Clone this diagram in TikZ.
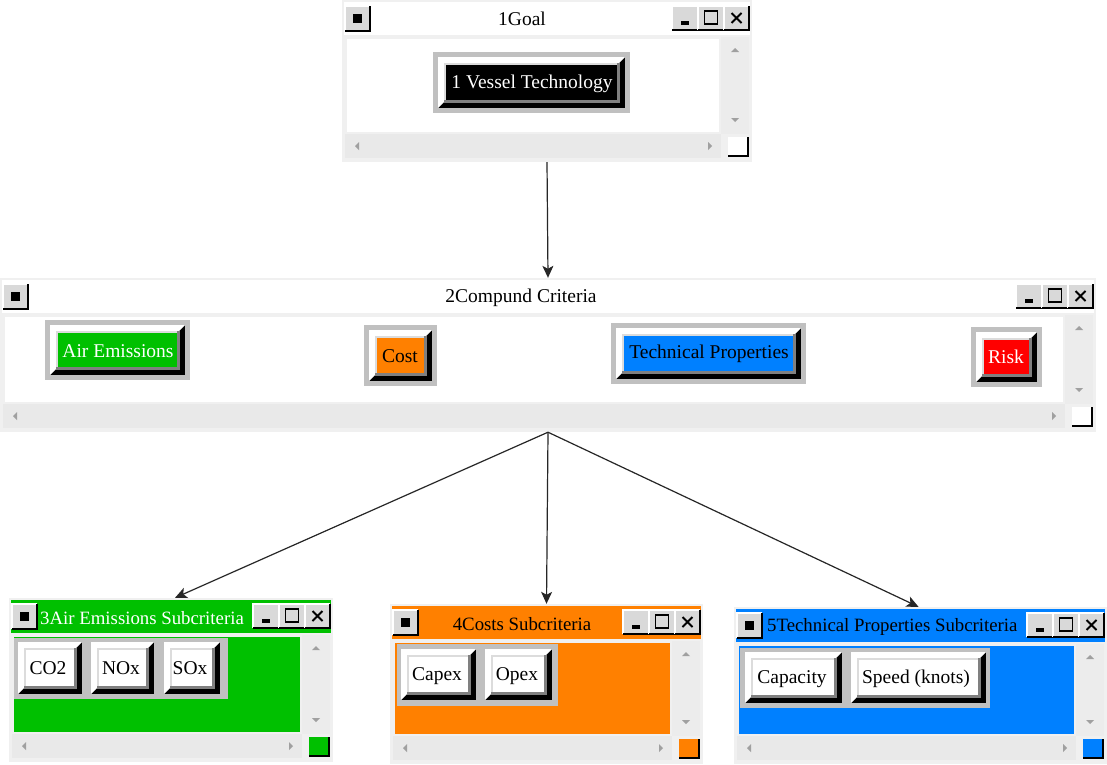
\documentclass[tikz,border=0pt]{standalone}
\usepackage{fontspec}
\setmainfont{Liberation Serif}
\usetikzlibrary{arrows.meta,fit}

\definecolor{winbg}{HTML}{F0F0F0}
\definecolor{scrollbg}{HTML}{E9E9E9}
\definecolor{btnface}{HTML}{D9D9D9}
\definecolor{framegray}{HTML}{C0C0C0}
\definecolor{shadegray}{HTML}{808080}
\definecolor{lightedge}{HTML}{DCDCDC}
\definecolor{arrgray}{HTML}{A0A0A0}
\definecolor{critgreen}{HTML}{00C000}
\definecolor{critorange}{HTML}{FF8000}
\definecolor{critblue}{HTML}{0080FF}
\definecolor{critred}{HTML}{FF0000}

% raised 3D bevel: x1 y1 x2 y2 facecolor
\newcommand{\bevelbox}[5]{%
  \fill[black] (#1,#2) rectangle (#3,#4);
  \fill[white] (#1,#2) -- (#3,#2) -- ({#3-6},{#2+6}) -- ({#1+6},{#2+6})
    -- ({#1+6},{#4-6}) -- (#1,#4) -- cycle;
  \fill[shadegray] ({#1+6},{#2+6}) rectangle ({#3-5},{#4-5});
  \fill[lightedge] ({#1+6},{#2+6}) rectangle ({#3-8},{#4-8});
  \fill[#5] ({#1+7.5},{#2+7.5}) rectangle ({#3-8},{#4-8});
}
% bevel button inside a grey frame: x1 y1 x2 y2 facecolor
\newcommand{\framedbtn}[5]{%
  \fill[framegray] (#1,#2) rectangle (#3,#4);
  \bevelbox{#1+5}{#2+5}{#3-5}{#4-5}{#5}
}
% small raised title-bar button: x1 y1 x2 y2
\newcommand{\smallbtn}[4]{%
  \fill[btnface] (#1,#2) rectangle (#3,#4);
  \draw[white, line width=1.2pt] (#1,#4) -- (#1,#2) -- (#3,#2);
  \draw[black, line width=1.4pt] (#1,#4) -- (#3,#4) -- (#3,#2);
}
% window frame: x1 y1 x2 y2 titlefill contentfill cornerfill
\newcommand{\wframe}[7]{%
  \fill[winbg] (#1,#2) rectangle (#3,#4);
  \fill[#5] ({#1+2},{#2+2}) rectangle ({#3-2},{#2+35});
  \fill[#6] ({#1+5},{#2+39}) rectangle ({#3-33},{#4-30});
  \fill[scrollbg!50!winbg] ({#3-31},{#2+37}) rectangle ({#3-3},{#4-28});
  \fill[scrollbg] ({#1+3},{#4-28}) rectangle ({#3-31},{#4-4});
  % scroll arrows
  \fill[arrgray] ({#3-21},{#2+52}) -- ({#3-13},{#2+52}) -- ({#3-17},{#2+48}) -- cycle;
  \fill[arrgray] ({#3-21},{#4-44}) -- ({#3-13},{#4-44}) -- ({#3-17},{#4-40}) -- cycle;
  \fill[arrgray] ({#1+17},{#4-20}) -- ({#1+17},{#4-12}) -- ({#1+13},{#4-16}) -- cycle;
  \fill[arrgray] ({#3-44},{#4-20}) -- ({#3-44},{#4-12}) -- ({#3-40},{#4-16}) -- cycle;
  % size grip corner
  \fill[#7] ({#3-24},{#4-25}) rectangle ({#3-4},{#4-6});
  \draw[black, line width=1.4pt] ({#3-24},{#4-6}) -- ({#3-4},{#4-6}) -- ({#3-4},{#4-25});
  % system menu button
  \smallbtn{#1+3}{#2+6}{#1+28}{#2+31}
  \fill[black] ({#1+11},{#2+14}) rectangle ({#1+20},{#2+23});
  % minimise / maximise / close
  \smallbtn{#3-80}{#2+6}{#3-54}{#2+30}
  \smallbtn{#3-54}{#2+6}{#3-28}{#2+30}
  \smallbtn{#3-28}{#2+6}{#3-3}{#2+30}
  \fill[black] ({#3-71},{#2+20.5}) rectangle ({#3-63},{#2+24.5});
  \draw[black, line width=1.3pt] ({#3-47.5},{#2+11}) rectangle ({#3-34.5},{#2+24});
  \draw[black, line width=1.3pt] ({#3-47.5},{#2+11.8}) -- ({#3-34.5},{#2+11.8});
  \draw[black, line width=1.9pt] ({#3-20.5},{#2+13}) -- ({#3-10.5},{#2+23})
    ({#3-20.5},{#2+23}) -- ({#3-10.5},{#2+13});
}

\begin{document}
\begin{tikzpicture}[x=1pt,y=-1pt,
  lbl/.style={font=\fontsize{19.5}{22}\selectfont, inner sep=0pt},
  sublbl/.style={font=\fontsize{18.8}{22}\selectfont, inner sep=0pt},
  winbox/.style={inner sep=0pt},
  conn/.style={draw=black!85, line width=1.2pt,
    -{Stealth[length=12pt,width=11pt,inset=3pt]}}]
\useasboundingbox[fill=white] (0,0) rectangle (1107,764);

% ---- goal window ----
\wframe{342}{0}{752}{162}{white}{white}{white}
\framedbtn{433}{52}{630}{113}{black}
\node[lbl] (t1) at (522,19) {1Goal};
\node[lbl, text=white] (vessel) at (532,84) {1 Vessel Technology};
\node[winbox, fit={(342,0) (752,162)}] (goalwin) {};

% ---- compound criteria window ----
\wframe{0}{278}{1096}{432}{white}{white}{white}
\framedbtn{45}{320}{190}{380}{critgreen}
\framedbtn{364}{325}{437}{386}{critorange}
\framedbtn{611}{323}{806}{384}{critblue}
\framedbtn{971}{327}{1042}{387}{critred}
\node[lbl] (t2) at (521,298) {2Compund Criteria};
\node[lbl, text=white] (air) at (118,351) {Air Emissions};
\node[lbl] (cost) at (400,356) {Cost};
\node[lbl] (tech) at (709,354) {Technical Properties};
\node[lbl, text=white] (risk) at (1006,357) {Risk};
\node[winbox, fit={(0,278) (1096,432)}] (compwin) {};

% ---- air emissions subcriteria ----
\wframe{9}{598}{333}{762}{critgreen}{critgreen}{critgreen}
\fill[framegray] (14,638) rectangle (228,699);
\bevelbox{18}{642}{82}{694}{white}
\bevelbox{91}{642}{154}{694}{white}
\bevelbox{164}{642}{220}{694}{white}
\node[sublbl, text=white, anchor=west] (t3) at (40,618) {3Air Emissions Subcriteria};
\node[lbl] (co2) at (48,668) {CO2};
\node[lbl] (nox) at (121,668) {NOx};
\node[lbl] (sox) at (190,668) {SOx};
\node[winbox, fit={(9,598) (333,762)}] (airwin) {};

% ---- costs subcriteria ----
\wframe{390}{604}{703}{764}{critorange}{critorange}{critorange}
\fill[framegray] (397,644) rectangle (558,706);
\bevelbox{401}{649}{476}{700}{white}
\bevelbox{485}{649}{552}{700}{white}
\node[sublbl] (t4) at (522,624) {4Costs Subcriteria};
\node[lbl] (capex) at (437,676) {Capex};
\node[lbl] (opex) at (517,676) {Opex};
\node[winbox, fit={(390,604) (703,764)}] (costwin) {};

% ---- technical properties subcriteria ----
\wframe{734}{607}{1107}{764}{critblue}{critblue}{critblue}
\fill[framegray] (740,648) rectangle (990,708);
\bevelbox{745}{652}{842}{703}{white}
\bevelbox{851}{652}{986}{703}{white}
\node[sublbl, anchor=west] (t5) at (767,627) {5Technical Properties Subcriteria};
\node[lbl] (capacity) at (792,679) {Capacity};
\node[lbl] (speed) at (916,679) {Speed (knots)};
\node[winbox, fit={(734,607) (1107,764)}] (techwin) {};

% ---- hierarchy links ----
\draw[conn] (goalwin.south) -- (compwin.north);
\draw[conn] (compwin.south) -- ([xshift=4pt]airwin.north);
\draw[conn] (compwin.south) -- (costwin.north);
\draw[conn] (compwin.south) -- ([xshift=-2pt]techwin.north);
\end{tikzpicture}
\end{document}
